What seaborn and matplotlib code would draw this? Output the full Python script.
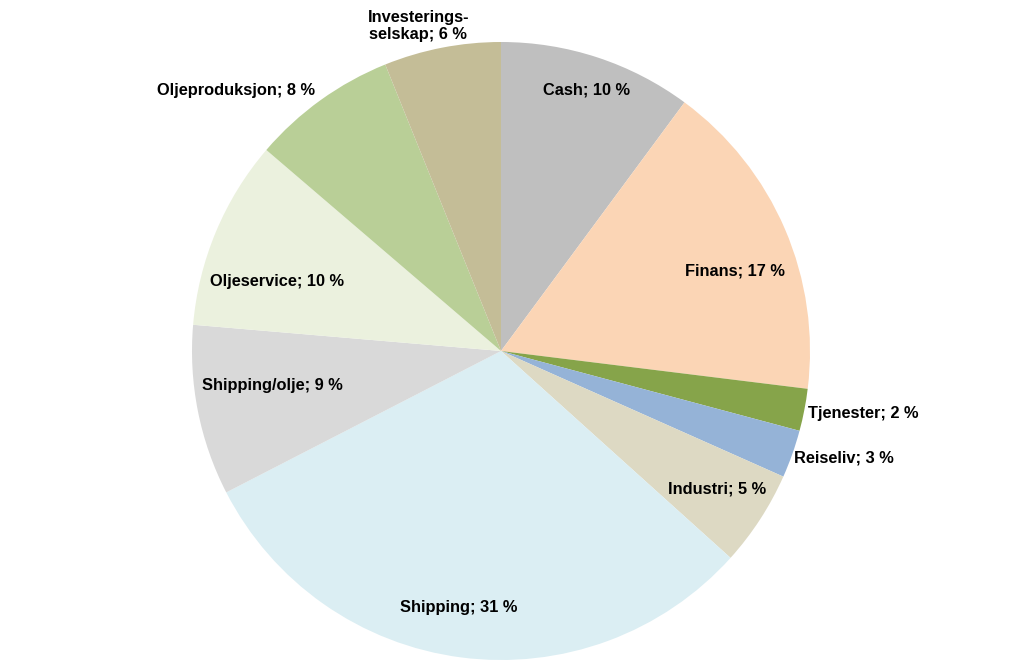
import numpy as np
import matplotlib
matplotlib.use("Agg")
import matplotlib.pyplot as plt
import seaborn as sns

# ---- data ----
categories = ["Cash", "Finans", "Tjenester", "Reiseliv", "Industri", "Shipping",
              "Shipping/olje", "Oljeservice", "Oljeproduksjon", "Investerings-\nselskap"]
values = [10.1, 16.8, 2.2, 2.5, 5.0, 30.7, 8.9, 9.9, 7.6, 6.1]
pct_labels = [10, 17, 2, 3, 5, 31, 9, 10, 8, 6]
colors = ["#BFBFBF", "#FBD5B5", "#86A44A", "#95B3D7", "#DDD9C3", "#DBEEF3",
          "#D9D9D9", "#EBF1DE", "#B9CF97", "#C4BD97"]

sns.set_theme(style="white")
plt.rcParams["font.family"] = ["Liberation Sans", "DejaVu Sans"]

fig = plt.figure(figsize=(10.23, 6.6), dpi=100)
ax = fig.add_axes([192 / 1023, 0.0, 618 / 1023, 618 / 660])
wedges, _ = ax.pie(values, colors=colors, startangle=90, counterclock=False,
                   radius=1.0, wedgeprops=dict(linewidth=0))
ax.set_xlim(-1, 1)
ax.set_ylim(-1, 1)
ax.set_aspect("equal")
ax.axis("off")

# label placement: (radius factor, angle nudge in degrees (ccw), ha, va)
place = [
    (0.89, 0.0, "center", "center"),
    (0.80, -4.5, "center", "center"),
    (1.015, -0.5, "left", "center"),
    (1.01, -0.5, "left", "center"),
    (0.83, 0.5, "center", "center"),
    (0.84, -2.0, "center", "center"),
    (0.75, -2.5, "center", "center"),
    (0.76, 5.5, "center", "center"),
    (1.035, -0.1, "right", "center"),
    (1.035, 4.0, "center", "bottom"),
]
for w, cat, p, (rf, dang, ha, va) in zip(wedges, categories, pct_labels, place):
    mid = np.deg2rad((w.theta1 + w.theta2) / 2 + dang)
    x, y = rf * np.cos(mid), rf * np.sin(mid)
    ax.text(x, y, f"{cat}; {p} %", ha=ha, va=va, fontsize=11.8,
            fontweight="bold", color="black", clip_on=False,
            multialignment="center", linespacing=1.15)

fig.savefig("out.png", dpi=100)
